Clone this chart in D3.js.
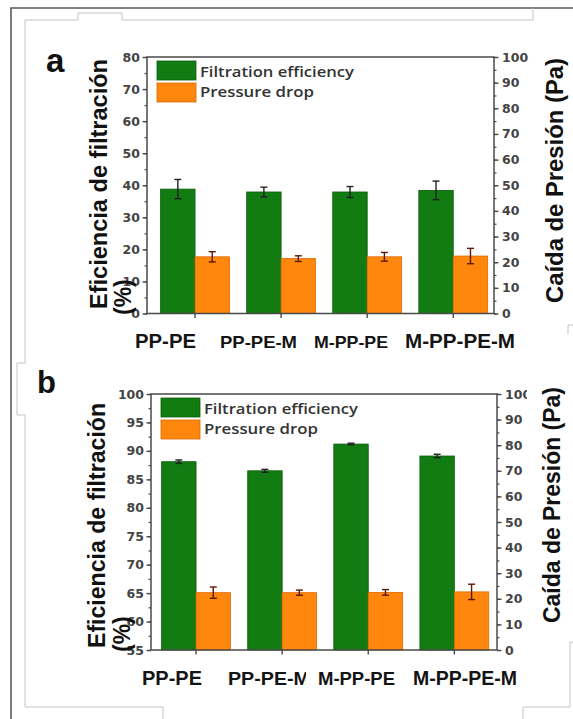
<!DOCTYPE html>
<html>
<head>
<meta charset="utf-8">
<script src="https://cdn.jsdelivr.net/npm/d3@7/dist/d3.min.js"></script>
<style>
  html, body { margin: 0; padding: 0; background: #fff; }
  svg { display: block; }
</style>
</head>
<body>
<div id="chart"></div>
<script>
// Samples, in the order they appear along the x axis
const categories = ["PP-PE", "PP-PE-M", "M-PP-PE", "M-PP-PE-M"];

// Panel a: filtration efficiency (%) and pressure drop (Pa), with error bars
const efficiencyA    = [38.8, 37.9, 37.9, 38.4];
const efficiencyAErr = [3.0, 1.5, 1.7, 2.9];
const pressureA      = [22.1, 21.4, 22.1, 22.4];
const pressureAErr   = [2.0, 1.1, 1.7, 3.0];

// Panel b
const efficiencyB    = [88.1, 86.5, 91.2, 89.1];
const efficiencyBErr = [0.3, 0.25, 0.15, 0.3];
const pressureB      = [22.4, 22.4, 22.5, 22.7];
const pressureBErr   = [2.2, 1.0, 1.1, 3.0];

// Tick values
const leftTicksA  = [0, 10, 20, 30, 40, 50, 60, 70, 80];
const leftTicksB  = [55, 60, 65, 70, 75, 80, 85, 90, 95, 100];
const rightTicks  = [0, 10, 20, 30, 40, 50, 60, 70, 80, 90, 100];

const legendLabels = ["Filtration efficiency", "Pressure drop"];
const leftTitle  = ["Eficiencia de filtración", "(%)"];
const rightTitle = "Caída de Presión (Pa)";

const W = 573, H = 719;
const GREEN = "#127c12", GREEN_EDGE = "#0c5e0c";
const ORANGE = "#ff870e", ORANGE_EDGE = "#d96a00";
const AXIS = "#4a4a4a";

const svg = d3.select("#chart").append("svg")
  .attr("width", W).attr("height", H)
  .attr("viewBox", `0 0 ${W} ${H}`);

// Scanned-page border lines around the figure
const page = svg.append("g").attr("fill", "none");
page.append("path")
  .attr("d", "M11,719 V8 H573")
  .attr("stroke", "#5a5a5a").attr("stroke-width", 1.6);
page.append("path")
  .attr("d", "M25,363 V20 H78 V13 H122 V20 H533 V8")
  .attr("stroke", "#c4c4c4").attr("stroke-width", 1);
page.append("path")
  .attr("d", "M25,363 H17 V415 H25 M25,415 V707 H163 V719")
  .attr("stroke", "#c4c4c4").attr("stroke-width", 1);
page.append("path")
  .attr("d", "M573,325 H568 V334 M573,642 H570 V707 H523 V719")
  .attr("stroke", "#c4c4c4").attr("stroke-width", 1);

function drawPanel(cfg) {
  const g = svg.append("g");
  const { x0, x1, y0, y1 } = cfg;

  const yL = d3.scaleLinear().domain(cfg.leftDomain).range([y1, y0]);
  const yR = d3.scaleLinear().domain([0, 100]).range([y1, y0]);
  const x = d3.scaleBand().domain(categories)
    .range(cfg.bandRange).paddingInner(0.2).paddingOuter(0.1);
  const bw = x.bandwidth() / 2;

  const rows = categories.map((c, i) => ({
    c, eff: cfg.eff[i], effErr: cfg.effErr[i], dp: cfg.dp[i], dpErr: cfg.dpErr[i]
  }));

  // Bars
  g.selectAll("rect.eff").data(rows).join("rect")
    .attr("class", "eff")
    .attr("x", d => x(d.c)).attr("width", bw)
    .attr("y", d => yL(d.eff)).attr("height", d => y1 - yL(d.eff))
    .attr("fill", GREEN).attr("stroke", GREEN_EDGE).attr("stroke-width", 0.8);
  g.selectAll("rect.dp").data(rows).join("rect")
    .attr("class", "dp")
    .attr("x", d => x(d.c) + bw).attr("width", bw)
    .attr("y", d => yR(d.dp)).attr("height", d => y1 - yR(d.dp))
    .attr("fill", ORANGE).attr("stroke", ORANGE_EDGE).attr("stroke-width", 0.8);

  // Error bars
  function errorBars(cls, cx, yScale, val, err, color) {
    const eb = g.selectAll("g." + cls).data(rows).join("g").attr("class", cls)
      .attr("stroke", color).attr("stroke-width", 1.4);
    eb.append("line")
      .attr("x1", d => cx(d)).attr("x2", d => cx(d))
      .attr("y1", d => yScale(val(d) + err(d))).attr("y2", d => yScale(val(d) - err(d)));
    eb.append("line")
      .attr("x1", d => cx(d) - 3.5).attr("x2", d => cx(d) + 3.5)
      .attr("y1", d => yScale(val(d) + err(d))).attr("y2", d => yScale(val(d) + err(d)));
    eb.append("line")
      .attr("x1", d => cx(d) - 3.5).attr("x2", d => cx(d) + 3.5)
      .attr("y1", d => yScale(val(d) - err(d))).attr("y2", d => yScale(val(d) - err(d)));
  }
  errorBars("eff-err", d => x(d.c) + bw / 2, yL, d => d.eff, d => d.effErr, "#222");
  errorBars("dp-err", d => x(d.c) + bw * 1.5, yR, d => d.dp, d => d.dpErr, "#5a1a08");

  // Plot frame
  g.append("rect")
    .attr("x", x0).attr("y", y0).attr("width", x1 - x0).attr("height", y1 - y0)
    .attr("fill", "none").attr("stroke", AXIS).attr("stroke-width", 1.5);

  const tickFont = g => g.selectAll("text")
    .attr("font-family", "'DejaVu Sans', sans-serif")
    .attr("font-weight", "bold").attr("font-size", 12.5).attr("fill", "#444");

  // Left axis: major + minor ticks
  const leftMinor = d3.range(cfg.leftDomain[0], cfg.leftDomain[1] + 1e-6, cfg.leftMinorStep);
  g.append("g").attr("transform", `translate(${x0},0)`)
    .call(d3.axisLeft(yL).tickValues(leftMinor).tickSize(2.5).tickFormat(""))
    .call(a => a.select(".domain").remove())
    .call(a => a.selectAll("line").attr("stroke", AXIS).attr("stroke-width", 1.2));
  g.append("g").attr("transform", `translate(${x0},0)`)
    .call(d3.axisLeft(yL).tickValues(cfg.leftTicks).tickSize(4.5).tickPadding(2.5).tickFormat(d3.format("d")))
    .call(a => a.select(".domain").remove())
    .call(a => a.selectAll("line").attr("stroke", AXIS).attr("stroke-width", 1.4))
    .call(tickFont);

  // Right axis
  const rightMinor = d3.range(0, 100.1, 5);
  g.append("g").attr("transform", `translate(${x1},0)`)
    .call(d3.axisRight(yR).tickValues(rightMinor).tickSize(2.5).tickFormat(""))
    .call(a => a.select(".domain").remove())
    .call(a => a.selectAll("line").attr("stroke", AXIS).attr("stroke-width", 1.2));
  const ra = g.append("g").attr("transform", `translate(${x1},0)`)
    .call(d3.axisRight(yR).tickValues(rightTicks).tickSize(4.5).tickPadding(3.5).tickFormat(d3.format("d")))
    .call(a => a.select(".domain").remove())
    .call(a => a.selectAll("line").attr("stroke", AXIS).attr("stroke-width", 1.4))
    .call(tickFont);
  if (cfg.rightClip) {
    const id = "rclip" + cfg.name;
    svg.append("clipPath").attr("id", id).append("rect")
      .attr("x", 0).attr("y", 0).attr("width", cfg.rightClip - x1).attr("height", H);
    ra.attr("clip-path", `url(#${id})`);
  }

  // Bottom ticks at sample centres
  g.append("g").attr("transform", `translate(0,${y1})`)
    .call(d3.axisBottom(x).tickSize(4.5).tickFormat(""))
    .call(a => a.select(".domain").remove())
    .call(a => a.selectAll("line").attr("stroke", AXIS).attr("stroke-width", 1.4));

  // Sample labels
  categories.forEach((c, i) => {
    const L = cfg.catLabels[i];
    const t = g.append("text")
      .attr("x", L.x).attr("y", cfg.catBaseline)
      .attr("font-family", "'Liberation Sans', Arial, sans-serif")
      .attr("font-weight", "bold").attr("font-size", L.size)
      .attr("fill", "#141414")
      .attr("textLength", L.len).attr("lengthAdjust", "spacingAndGlyphs")
      .text(c);
    if (L.clip) {
      const id = "cclip" + cfg.name + i;
      svg.append("clipPath").attr("id", id).append("rect")
        .attr("x", 0).attr("y", 0).attr("width", L.clip).attr("height", H);
      t.attr("clip-path", `url(#${id})`);
    }
  });

  // Legend
  const lg = g.append("g");
  const legendLen = [154, 114];
  [GREEN, ORANGE].forEach((col, i) => {
    lg.append("rect")
      .attr("x", x0 + 10).attr("y", y0 + 4 + i * 22)
      .attr("width", 39).attr("height", 19)
      .attr("fill", col).attr("stroke", i ? ORANGE_EDGE : GREEN_EDGE).attr("stroke-width", 0.8);
    lg.append("text")
      .attr("x", x0 + 53).attr("y", y0 + 20 + i * 20)
      .attr("font-family", "'Open Sans', sans-serif").attr("font-weight", 600)
      .attr("font-size", 14.5).attr("fill", "#333")
      .attr("textLength", legendLen[i]).attr("lengthAdjust", "spacingAndGlyphs")
      .text(legendLabels[i]);
  });

  // Axis titles
  const titleFont = t => t
    .attr("font-family", "'Liberation Sans', Arial, sans-serif")
    .attr("font-weight", "bold").attr("font-size", 23).attr("fill", "#111");
  g.append("text")
    .attr("transform", `translate(${cfg.lt1.x},${cfg.lt1.y}) rotate(-90)`)
    .attr("textLength", cfg.lt1.len).attr("lengthAdjust", "spacingAndGlyphs")
    .call(titleFont).text(leftTitle[0]);
  g.append("text")
    .attr("transform", `translate(${cfg.lt2.x},${cfg.lt2.y}) rotate(-90)`)
    .call(titleFont).text(leftTitle[1]);
  g.append("text")
    .attr("transform", `translate(${cfg.rt.x},${cfg.rt.y}) rotate(-90)`)
    .attr("textLength", cfg.rt.len).attr("lengthAdjust", "spacingAndGlyphs")
    .call(titleFont).text(rightTitle);

  // Panel letter
  g.append("text")
    .attr("x", cfg.letter.x).attr("y", cfg.letter.y)
    .attr("font-family", "'Liberation Sans', Arial, sans-serif")
    .attr("font-weight", "bold").attr("font-size", cfg.letter.size).attr("fill", "#111")
    .text(cfg.letter.t);
}

drawPanel({
  name: "a",
  x0: 147, x1: 494, y0: 57, y1: 313.5,
  bandRange: [152, 496.3],
  leftDomain: [0, 80], leftTicks: leftTicksA, leftMinorStep: 5,
  eff: efficiencyA, effErr: efficiencyAErr, dp: pressureA, dpErr: pressureAErr,
  catBaseline: 348,
  catLabels: [
    { x: 135, size: 20, len: 61 },
    { x: 220, size: 17, len: 77 },
    { x: 314, size: 17, len: 74 },
    { x: 405, size: 20, len: 110 }
  ],
  lt1: { x: 107, y: 309, len: 250 },
  lt2: { x: 131, y: 315 },
  rt: { x: 563, y: 303, len: 245 },
  letter: { x: 46, y: 72, size: 33, t: "a" }
});

drawPanel({
  name: "b",
  x0: 151, x1: 497, y0: 394, y1: 650,
  bandRange: [153, 497.4],
  leftDomain: [55, 100], leftTicks: leftTicksB, leftMinorStep: 2.5,
  eff: efficiencyB, effErr: efficiencyBErr, dp: pressureB, dpErr: pressureBErr,
  rightClip: 527,
  catBaseline: 685,
  catLabels: [
    { x: 142, size: 20, len: 60 },
    { x: 228, size: 19, len: 82, clip: 306 },
    { x: 318, size: 18.5, len: 77 },
    { x: 413, size: 19.5, len: 104 }
  ],
  lt1: { x: 105, y: 648, len: 245 },
  lt2: { x: 130, y: 652 },
  rt: { x: 560, y: 623, len: 236 },
  letter: { x: 37, y: 393, size: 31, t: "b" }
});
</script>
</body>
</html>
